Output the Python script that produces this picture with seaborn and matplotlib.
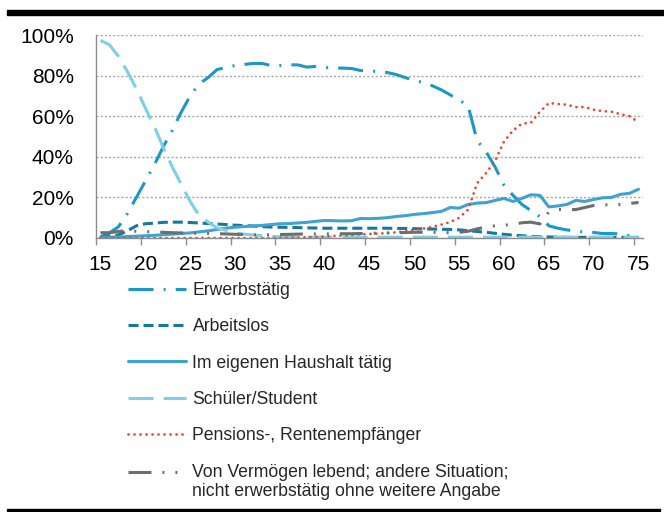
import numpy as np
import pandas as pd
import matplotlib
matplotlib.use("Agg")
import matplotlib.pyplot as plt
import seaborn as sns
from matplotlib.ticker import FixedLocator, FuncFormatter, NullFormatter

sns.set_theme(style="white")
plt.rcParams["font.family"] = ["Liberation Sans", "DejaVu Sans"]

# -------------------------------
# Data (share in % by age)
# -------------------------------
ages = list(range(15, 76))

erwerbstaetig = [0.5, 2.5, 5.5, 12, 20, 28, 36, 45, 53, 62,
                 70, 76, 79, 83, 84, 85, 85.5, 86, 86, 85,
                 85, 85.3, 85.3, 84.2, 84.5, 84, 83.7, 83.7, 83.5, 82.5,
                 82.3, 82, 81.5, 80.5, 79, 77.6, 76.6, 75, 73, 70.5,
                 68, 65, 48, 42.5, 35, 26, 21, 16.5, 13.5, 10.5,
                 6, 4.8, 4, 3.3, 3, 2.7, 2.2, 2.2, 2, 1.2, 0.5]

arbeitslos = [0.5, 1, 1.5, 3.5, 6, 7, 7.3, 7.7, 7.8, 7.8,
              7.6, 7.4, 7.1, 6.9, 6.6, 6.3, 6.1, 5.9, 5.6, 5.4,
              5.3, 5.2, 5.1, 5, 4.9, 4.8, 4.8, 4.8, 4.8, 4.8,
              4.8, 4.8, 4.8, 4.7, 4.7, 4.6, 4.5, 4.4, 4.3, 4.2,
              4, 3.6, 3.2, 2.8, 2.3, 1.8, 1.4, 1.1, 0.8, 0.6,
              0.5, 0.4, 0.3, 0.3, 0.3, 0.3, 0.3, 0.3, 0.3, 0.3, 0.3]

haushalt = [0.3, 0.4, 0.5, 0.7, 0.9, 1.1, 1.3, 1.6, 1.9, 2.2,
            2.5, 3, 3.5, 4.2, 4.8, 5.3, 5.6, 5.9, 6.2, 6.6,
            7, 7.1, 7.4, 7.7, 8.2, 8.6, 8.5, 8.4, 8.5, 9.6,
            9.5, 9.7, 10, 10.6, 11, 11.6, 12, 12.5, 13.1, 15,
            14.7, 16.5, 17.2, 17.4, 18.5, 19.5, 18, 19.5, 21.3, 21,
            15.3, 15.8, 16.5, 18.5, 18, 19, 19.8, 20, 21.5, 22, 24]

schueler = [97.3, 95.2, 89.5, 82, 73.5, 64, 55, 44.5, 35, 26.5,
            18, 11, 7.8, 5, 3.7, 2.4, 1.9, 1.5, 1.1, 0.8,
            0.6, 0.5, 0.5, 0.4, 0.4, 0.4, 0.4, 0.4, 0.4, 0.4,
            0.4, 0.4, 0.4, 0.4, 0.4, 0.4, 0.4, 0.4, 0.4, 0.4,
            0.4, 0.4, 0.4, 0.4, 0.4, 0.4, 0.4, 0.4, 0.4, 0.4,
            0.4, 0.4, 0.4, 0.4, 0.4, 0.4, 0.4, 0.4, 0.4, 0.4, 0.4]

pension = [0, 0, 0, 0, 0, 0, 0, 0, 0, 0,
           0, 0, 0, 0, 0, 0, 0, 0, 0, 0,
           0, 0.2, 0.3, 0.4, 0.5, 0.7, 1, 1.2, 1.5, 1.8,
           2, 2.2, 2.4, 2.8, 3.3, 4, 4.6, 5.5, 6.6, 7.8,
           10, 14, 27, 32, 38, 47.5, 53, 56.3, 56.8, 62.2,
           66.5, 66, 65.7, 64.5, 64.5, 63.2, 62.5, 62.2, 61, 60, 57]

vermoegen = [2.6, 2.6, 3.2, 3.6, 3.3, 3.1, 3, 2.8, 2.6, 2.5,
             2.4, 2.3, 2.2, 2.1, 2, 1.8, 1.7, 1.6, 1.5, 1.6,
             1.7, 1.8, 1.9, 2, 2, 2, 2, 2.1, 2.1, 2.2,
             2.3, 2.4, 2.5, 2.6, 2.7, 2.8, 2.8, 2.8, 2.7, 2.6,
             2.8, 3.3, 4.5, 5.4, 6, 6.3, 6.7, 7.5, 7.8, 6.9,
             12.8, 14, 14, 14, 15, 16, 16.4, 16.2, 16.5, 17, 17.5]

labels = ["Erwerbstätig", "Arbeitslos", "Im eigenen Haushalt tätig",
          "Schüler/Student", "Pensions-, Rentenempfänger",
          "Von Vermögen lebend; andere Situation;\nnicht erwerbstätig ohne weitere Angabe"]

colors = ["#1b98c8", "#17789e", "#3ea3d1", "#7dcfea", "#e8472f", "#6e6e6e"]

styles = [
    (0, (8.2, 3.3, 0.65, 3.3)),
    (0, (3.3, 1.6)),
    "-",
    (0, (8.2, 3.3)),
    (0, (0.01, 2.15)),
    (0, (7.5, 3.6, 0.65, 3.6, 0.65, 3.6)),
]

widths = [2.2, 2.2, 2.2, 2.2, 2.0, 2.2]
caps = ["butt", "butt", "butt", "butt", "round", "butt"]

values = [erwerbstaetig, arbeitslos, haushalt, schueler, pension, vermoegen]

fig = plt.figure(figsize=(6.64, 5.12), dpi=100)
ax = fig.add_axes([0.1446, 0.5352, 0.8238, 0.3964])

for lab, vals, col, ls, lw, cap in zip(labels, values, colors, styles, widths, caps):
    sns.lineplot(x=ages, y=vals, ax=ax, color=col, linestyle=ls,
                 linewidth=lw, dash_capstyle=cap, label=lab)

ax.set_xlim(14.5, 75.5)
ax.set_ylim(0, 100)
ax.set_xlabel("")
ax.set_ylabel("")

# x axis: tick marks between categories, labels on categories
ax.xaxis.set_major_locator(FixedLocator(np.arange(14.5, 75, 5)))
ax.xaxis.set_major_formatter(NullFormatter())
ax.xaxis.set_minor_locator(FixedLocator(range(15, 76, 5)))
ax.xaxis.set_minor_formatter(FuncFormatter(lambda v, p: f"{v:.0f}"))
ax.tick_params(axis="x", which="major", bottom=True, length=5, width=1,
               color="#8c8c8c", direction="out")
ax.tick_params(axis="x", which="minor", bottom=True, length=0,
               labelsize=15, pad=12, labelcolor="black")

ax.yaxis.set_major_locator(FixedLocator(range(0, 101, 20)))
ax.yaxis.set_major_formatter(FuncFormatter(lambda v, p: f"{v:.0f}%"))
ax.tick_params(axis="y", length=0, labelsize=15, pad=16, labelcolor="black")

ax.yaxis.grid(True, linestyle=(0, (1.5, 1.5)), color="#a6a6a6", linewidth=1)
ax.xaxis.grid(False)
ax.set_axisbelow(True)

for side in ["top", "right"]:
    ax.spines[side].set_visible(False)
for side in ["left", "bottom"]:
    ax.spines[side].set_color("#8c8c8c")
    ax.spines[side].set_linewidth(1)

leg = ax.legend(loc="upper left", bbox_to_anchor=(0.1932, 0.4496),
                bbox_transform=fig.transFigure, frameon=False, fontsize=12.7,
                handlelength=3.3, handletextpad=0.34, labelspacing=1.1,
                borderpad=0, borderaxespad=0)

# two-line entry: put its handle next to the first text line
last = leg.get_lines()[-1]
last.set_ydata(np.asarray(last.get_ydata()) + 1.2 * 12.7 / 2)

# black rules at top and bottom
fig.add_artist(plt.Rectangle((7 / 664, 1 - 15 / 512), 657 / 664, 5 / 512,
                             transform=fig.transFigure, color="black"))
fig.add_artist(plt.Rectangle((7 / 664, 1 - 511 / 512), 653 / 664, 2 / 512,
                             transform=fig.transFigure, color="black"))

plt.savefig("out.png", dpi=100)
